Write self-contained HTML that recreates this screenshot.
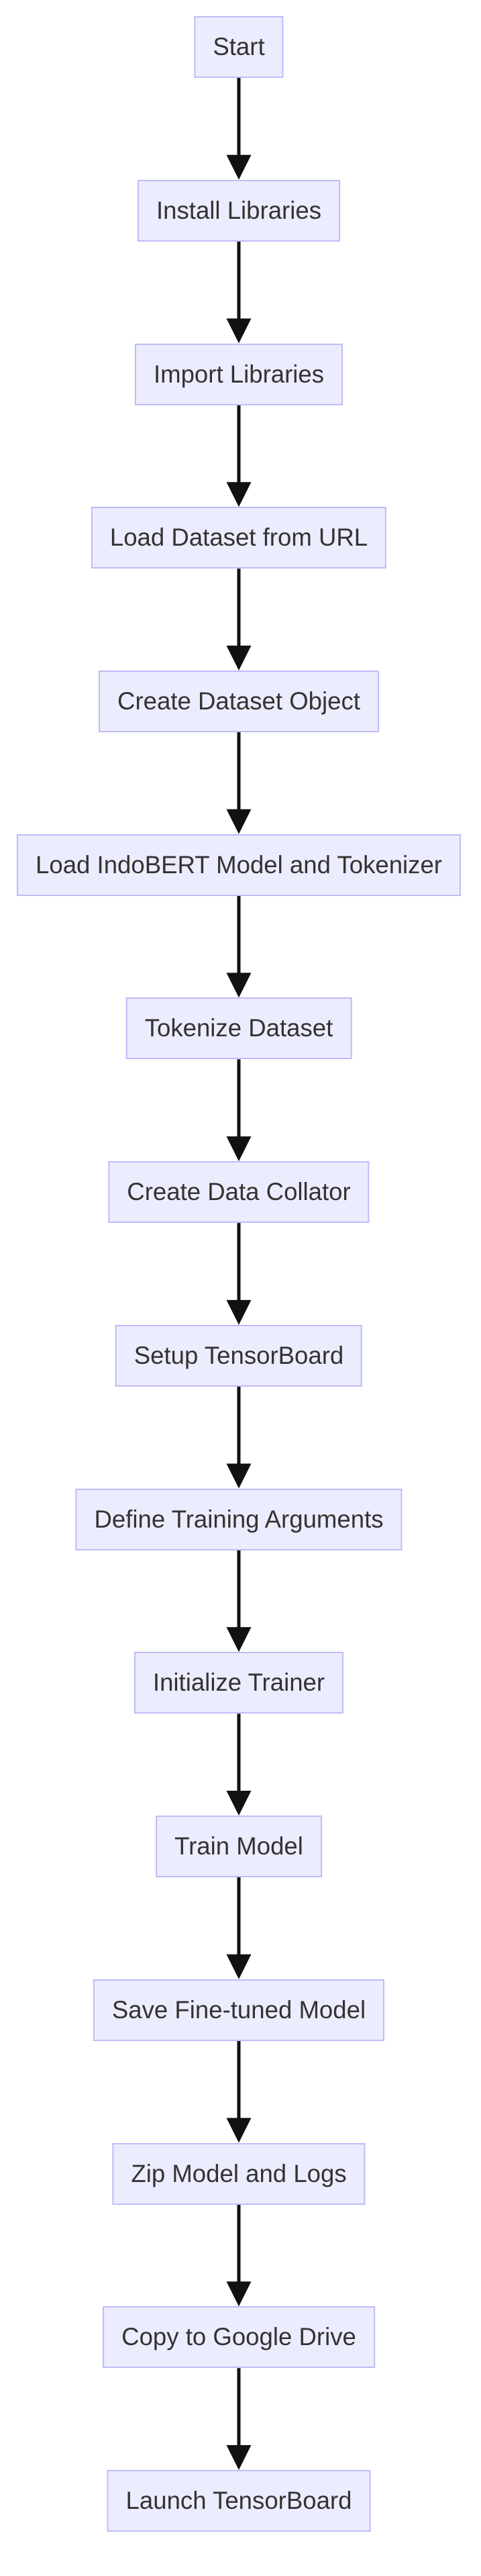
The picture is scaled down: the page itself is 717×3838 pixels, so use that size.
<!DOCTYPE html>
<html><head><meta charset="utf-8"><style>
html,body{margin:0;padding:0;background:#fff;}
body{width:717px;height:3838px;position:relative;overflow:hidden;font-family:"Liberation Sans",Arial,sans-serif;}
.n{position:absolute;height:88px;left:356px;transform:translateX(-50%);background:#ECECFF;border:2px solid #BDBDF7;box-sizing:content-box;padding:0 26px;display:flex;align-items:center;justify-content:center;font-size:36.6px;color:#333;white-space:nowrap;}
svg{position:absolute;left:0;top:0;}
</style></head><body>
<svg width="717" height="3838" id="s"></svg>
<div id="c"></div>
<script>
var labels=["Start","Install Libraries","Import Libraries","Load Dataset from URL","Create Dataset Object","Load IndoBERT Model and Tokenizer","Tokenize Dataset","Create Data Collator","Setup TensorBoard","Define Training Arguments","Initialize Trainer","Train Model","Save Fine-tuned Model","Zip Model and Logs","Copy to Google Drive","Launch TensorBoard"];
var pitch=243.73,h=92,html="",svg="",cx=356;
for(var i=0;i<labels.length;i++){
 var t=24+i*pitch;
 html+='<div class="n" style="top:'+t.toFixed(1)+'px">'+labels[i]+'</div>';
 if(i<labels.length-1){
  var y1=t+h,y2=24+(i+1)*pitch;
  svg+='<line x1="'+cx+'" y1="'+y1+'" x2="'+cx+'" y2="'+(y2-30)+'" stroke="#111" stroke-width="5"/>';
  svg+='<polygon points="'+(cx-18.5)+','+(y2-37)+' '+(cx+18.5)+','+(y2-37)+' '+cx+','+y2+'" fill="#111"/>';
 }
}
document.getElementById("c").innerHTML=html;
document.getElementById("s").innerHTML=svg;
</script>
</body></html>
